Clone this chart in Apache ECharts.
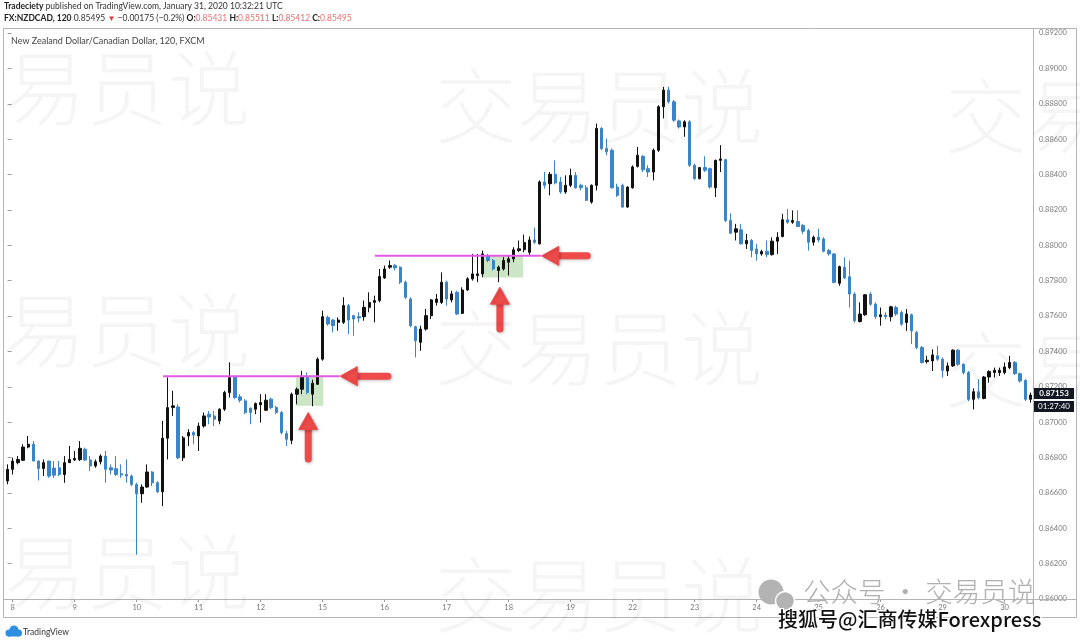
<!DOCTYPE html>
<html>
<head>
<meta charset="utf-8">
<title>NZDCAD 120</title>
<script src="https://cdn.jsdelivr.net/npm/echarts@6/dist/echarts.min.js"></script>
<style>
  html, body { margin: 0; padding: 0; background: #fff; }
  #chart { width: 1080px; height: 642px; }
</style>
</head>
<body>
<div id="chart"></div>
<script>
// 2小时K线: [开, 收, 低, 高]
const ohlc = [
  [0.86667, 0.86733, 0.86648, 0.86761], [0.86733, 0.86780, 0.86704, 0.86799], [0.86771, 0.86789, 0.86761, 0.86808],
  [0.86784, 0.86859, 0.86780, 0.86875], [0.86859, 0.86875, 0.86852, 0.86922], [0.86875, 0.86780, 0.86780, 0.86893],
  [0.86780, 0.86738, 0.86670, 0.86784], [0.86738, 0.86771, 0.86695, 0.86789], [0.86780, 0.86695, 0.86685, 0.86780],
  [0.86740, 0.86700, 0.86685, 0.86780], [0.86742, 0.86704, 0.86695, 0.86780], [0.86704, 0.86771, 0.86657, 0.86808],
  [0.86771, 0.86789, 0.86771, 0.86865], [0.86786, 0.86795, 0.86780, 0.86837], [0.86788, 0.86852, 0.86780, 0.86893],
  [0.86846, 0.86786, 0.86780, 0.86856], [0.86786, 0.86752, 0.86723, 0.86808], [0.86752, 0.86776, 0.86742, 0.86789],
  [0.86776, 0.86808, 0.86761, 0.86818], [0.86808, 0.86733, 0.86657, 0.86837], [0.86742, 0.86729, 0.86704, 0.86761],
  [0.86737, 0.86704, 0.86695, 0.86808], [0.86708, 0.86701, 0.86685, 0.86761], [0.86704, 0.86695, 0.86657, 0.86789],
  [0.86695, 0.86648, 0.86638, 0.86704], [0.86648, 0.86595, 0.86251, 0.86657], [0.86595, 0.86633, 0.86544, 0.86648],
  [0.86633, 0.86718, 0.86629, 0.86761], [0.86718, 0.86657, 0.86638, 0.86723], [0.86657, 0.86606, 0.86600, 0.86667],
  [0.86606, 0.86909, 0.86525, 0.87007], [0.86909, 0.87082, 0.86789, 0.87253], [0.87082, 0.87092, 0.87035, 0.87177],
  [0.87086, 0.86798, 0.86790, 0.87101], [0.86798, 0.86911, 0.86780, 0.86922], [0.86922, 0.86941, 0.86865, 0.86960],
  [0.86941, 0.86927, 0.86875, 0.86950], [0.86922, 0.86978, 0.86837, 0.86997], [0.86978, 0.87035, 0.86969, 0.87054],
  [0.87045, 0.87029, 0.86988, 0.87063], [0.87035, 0.87016, 0.86978, 0.87063], [0.87007, 0.87073, 0.86988, 0.87078],
  [0.87073, 0.87167, 0.87063, 0.87177], [0.87167, 0.87253, 0.87139, 0.87338], [0.87256, 0.87139, 0.87130, 0.87262],
  [0.87143, 0.87124, 0.87111, 0.87158], [0.87120, 0.87054, 0.87045, 0.87130], [0.87079, 0.87054, 0.86988, 0.87082],
  [0.87073, 0.87105, 0.87045, 0.87111], [0.87098, 0.87111, 0.86997, 0.87158], [0.87067, 0.87124, 0.87063, 0.87158],
  [0.87130, 0.87082, 0.87073, 0.87139], [0.87082, 0.87054, 0.87045, 0.87092], [0.87054, 0.86941, 0.86931, 0.87063],
  [0.86935, 0.86903, 0.86865, 0.86950], [0.86897, 0.87158, 0.86875, 0.87167], [0.87158, 0.87186, 0.87101, 0.87196],
  [0.87186, 0.87253, 0.87158, 0.87290], [0.87253, 0.87167, 0.87158, 0.87281], [0.87158, 0.87220, 0.87090, 0.87240],
  [0.87214, 0.87356, 0.87211, 0.87366], [0.87356, 0.87596, 0.87347, 0.87630], [0.87592, 0.87555, 0.87545, 0.87602],
  [0.87577, 0.87545, 0.87507, 0.87583], [0.87564, 0.87577, 0.87517, 0.87592], [0.87564, 0.87659, 0.87555, 0.87706],
  [0.87659, 0.87577, 0.87498, 0.87668], [0.87602, 0.87583, 0.87488, 0.87607], [0.87596, 0.87589, 0.87564, 0.87621],
  [0.87596, 0.87649, 0.87573, 0.87687], [0.87649, 0.87677, 0.87621, 0.87734], [0.87677, 0.87687, 0.87564, 0.87715],
  [0.87687, 0.87823, 0.87677, 0.87866], [0.87815, 0.87866, 0.87810, 0.87885], [0.87876, 0.87885, 0.87866, 0.87914],
  [0.87885, 0.87872, 0.87857, 0.87895], [0.87876, 0.87791, 0.87781, 0.87880], [0.87791, 0.87706, 0.87696, 0.87800],
  [0.87696, 0.87545, 0.87536, 0.87706], [0.87539, 0.87460, 0.87366, 0.87545], [0.87451, 0.87526, 0.87403, 0.87545],
  [0.87526, 0.87602, 0.87517, 0.87640], [0.87602, 0.87691, 0.87583, 0.87696], [0.87677, 0.87696, 0.87659, 0.87725],
  [0.87677, 0.87791, 0.87668, 0.87847], [0.87791, 0.87696, 0.87659, 0.87800], [0.87691, 0.87725, 0.87677, 0.87743],
  [0.87734, 0.87611, 0.87607, 0.87743], [0.87615, 0.87747, 0.87611, 0.87762], [0.87747, 0.87810, 0.87743, 0.87819],
  [0.87810, 0.87838, 0.87800, 0.87951], [0.87829, 0.87838, 0.87791, 0.87951], [0.87838, 0.87951, 0.87819, 0.87970],
  [0.87942, 0.87914, 0.87904, 0.87951], [0.87914, 0.87866, 0.87857, 0.87923], [0.87857, 0.87876, 0.87791, 0.87885],
  [0.87866, 0.87914, 0.87857, 0.87933], [0.87904, 0.87923, 0.87829, 0.87942], [0.87923, 0.87974, 0.87904, 0.87989],
  [0.87970, 0.87980, 0.87961, 0.88027], [0.87975, 0.88015, 0.87960, 0.88060], [0.87960, 0.88030, 0.87945, 0.88050],
  [0.88030, 0.88017, 0.88008, 0.88100], [0.88008, 0.88358, 0.88004, 0.88367], [0.88358, 0.88339, 0.88320, 0.88414],
  [0.88348, 0.88401, 0.88282, 0.88414], [0.88401, 0.88352, 0.88344, 0.88480], [0.88358, 0.88301, 0.88291, 0.88386],
  [0.88301, 0.88339, 0.88291, 0.88395], [0.88339, 0.88395, 0.88329, 0.88433], [0.88395, 0.88325, 0.88320, 0.88414],
  [0.88339, 0.88325, 0.88310, 0.88348], [0.88325, 0.88254, 0.88250, 0.88340], [0.88244, 0.88339, 0.88235, 0.88344],
  [0.88339, 0.88660, 0.88310, 0.88688], [0.88660, 0.88547, 0.88537, 0.88669], [0.88547, 0.88528, 0.88509, 0.88603],
  [0.88537, 0.88325, 0.88320, 0.88547], [0.88329, 0.88282, 0.88273, 0.88348], [0.88339, 0.88216, 0.88212, 0.88348],
  [0.88216, 0.88329, 0.88212, 0.88333], [0.88325, 0.88443, 0.88320, 0.88452], [0.88446, 0.88509, 0.88439, 0.88556],
  [0.88503, 0.88427, 0.88414, 0.88509], [0.88433, 0.88414, 0.88386, 0.88452], [0.88414, 0.88537, 0.88367, 0.88547],
  [0.88537, 0.88783, 0.88528, 0.88792], [0.88783, 0.88877, 0.88717, 0.88896], [0.88877, 0.88811, 0.88802, 0.88896],
  [0.88811, 0.88707, 0.88698, 0.88821], [0.88703, 0.88669, 0.88660, 0.88711], [0.88669, 0.88698, 0.88613, 0.88707],
  [0.88698, 0.88452, 0.88443, 0.88707], [0.88452, 0.88376, 0.88371, 0.88461], [0.88376, 0.88439, 0.88373, 0.88443],
  [0.88439, 0.88424, 0.88414, 0.88503], [0.88433, 0.88329, 0.88320, 0.88439], [0.88325, 0.88480, 0.88273, 0.88484],
  [0.88480, 0.88488, 0.88414, 0.88566], [0.88484, 0.88140, 0.88131, 0.88488], [0.88140, 0.88068, 0.88064, 0.88181],
  [0.88074, 0.88093, 0.88027, 0.88121], [0.88087, 0.88008, 0.88004, 0.88121], [0.88008, 0.88027, 0.87979, 0.88064],
  [0.88027, 0.87970, 0.87932, 0.88036], [0.87979, 0.87951, 0.87913, 0.88008], [0.87951, 0.87964, 0.87941, 0.87974],
  [0.87966, 0.87947, 0.87932, 0.88027], [0.87947, 0.88023, 0.87941, 0.88045], [0.88023, 0.88045, 0.87951, 0.88074],
  [0.88049, 0.88144, 0.88045, 0.88178], [0.88144, 0.88130, 0.88121, 0.88206], [0.88130, 0.88140, 0.88121, 0.88197],
  [0.88134, 0.88106, 0.88102, 0.88197], [0.88112, 0.88079, 0.88064, 0.88121], [0.88083, 0.88017, 0.87970, 0.88093],
  [0.88017, 0.88045, 0.87998, 0.88055], [0.88045, 0.88030, 0.88017, 0.88093], [0.88036, 0.87966, 0.87960, 0.88045],
  [0.87970, 0.87951, 0.87941, 0.87979], [0.87951, 0.87790, 0.87785, 0.87955], [0.87785, 0.87879, 0.87771, 0.87885],
  [0.87875, 0.87815, 0.87809, 0.87932], [0.87822, 0.87724, 0.87648, 0.87913], [0.87724, 0.87573, 0.87563, 0.87734],
  [0.87569, 0.87611, 0.87563, 0.87677], [0.87607, 0.87720, 0.87601, 0.87724], [0.87724, 0.87667, 0.87658, 0.87734],
  [0.87667, 0.87596, 0.87582, 0.87677], [0.87596, 0.87607, 0.87545, 0.87648], [0.87605, 0.87596, 0.87582, 0.87620],
  [0.87596, 0.87652, 0.87569, 0.87658], [0.87648, 0.87611, 0.87601, 0.87658], [0.87620, 0.87554, 0.87545, 0.87630],
  [0.87563, 0.87611, 0.87516, 0.87639], [0.87607, 0.87516, 0.87441, 0.87614], [0.87507, 0.87422, 0.87412, 0.87516],
  [0.87422, 0.87337, 0.87331, 0.87431], [0.87342, 0.87350, 0.87331, 0.87375], [0.87346, 0.87380, 0.87289, 0.87412],
  [0.87375, 0.87356, 0.87346, 0.87431], [0.87356, 0.87293, 0.87252, 0.87365], [0.87289, 0.87318, 0.87261, 0.87337],
  [0.87318, 0.87407, 0.87312, 0.87412], [0.87407, 0.87327, 0.87318, 0.87412], [0.87327, 0.87280, 0.87270, 0.87331],
  [0.87280, 0.87129, 0.87119, 0.87289], [0.87129, 0.87172, 0.87072, 0.87191], [0.87172, 0.87138, 0.87129, 0.87242],
  [0.87134, 0.87255, 0.87129, 0.87261], [0.87255, 0.87286, 0.87223, 0.87293], [0.87280, 0.87293, 0.87252, 0.87308],
  [0.87280, 0.87293, 0.87261, 0.87308], [0.87280, 0.87312, 0.87270, 0.87337], [0.87308, 0.87337, 0.87299, 0.87375],
  [0.87337, 0.87274, 0.87267, 0.87346], [0.87274, 0.87233, 0.87223, 0.87280], [0.87236, 0.87129, 0.87119, 0.87242],
  [0.87129, 0.87153, 0.87110, 0.87167]
];

// 日期刻度: 每天 12 根 2 小时K线, 第一天从第 2 根开始
const dayLabels = ['8', '9', '10', '11', '12', '15', '16', '17', '18', '19', '22', '23', '24', '25', '26', '29', '30'];
const firstDayBar = 1;
const barsPerDay = 12;

// 价格轴
const priceMin = 0.860;
const priceMax = 0.892;
const priceStep = 0.002;

// 阻力线 (K线序号, 价格)
const levels = [
  { from: 30.1, to: 64.3, price: 0.87260 },
  { from: 71.1, to: 103.3, price: 0.87940 }
];
// 绿色回踩区域 [x1, 价格低, x2, 价格高]
const zones = [
  [55.8, 0.87092, 61.1, 0.87262],
  [91.8, 0.87818, 99.8, 0.87942]
];
// 红色箭头 [尾x, 尾价格, 头x, 头价格]
const arrows = [
  [73.6, 0.87260, 64.4, 0.87260],
  [112.2, 0.87940, 103.4, 0.87940],
  [58.2, 0.86792, 58.2, 0.87054],
  [95.3, 0.87527, 95.3, 0.87763]
];

const lastTime = '01:27:40';

const UP = '#111111';
const DOWN = '#3a84c9';
const RED = '#ef4a4a';
const PINK = '#e25be6';

const chart = echarts.init(document.getElementById('chart'), null, { renderer: 'canvas' });

const isDayStart = (i) => i >= firstDayBar && (i - firstDayBar) % barsPerDay === 0;

const levelSeries = levels.map((lv) => ({
  type: 'line',
  xAxisIndex: 1,
  yAxisIndex: 0,
  showSymbol: false,
  silent: true,
  z: 4,
  lineStyle: { color: PINK, width: 2 },
  data: [[lv.from, lv.price], [lv.to, lv.price]]
}));

const watermark = (text, x, y) => ({
  type: 'text',
  x: x,
  y: y,
  z: 90,
  silent: true,
  style: {
    text: text,
    font: '300 82px "Noto Sans CJK SC"',
    fill: 'rgba(0,0,0,0.04)',
    textVerticalAlign: 'middle'
  }
});

const option = {
  animation: false,
  backgroundColor: '#ffffff',
  grid: { left: 5, right: 47, top: 33, bottom: 43, containLabel: false },
  xAxis: [
    {
      type: 'category',
      data: ohlc.map((_, i) => i),
      boundaryGap: true,
      axisLine: { show: false },
      axisTick: {
        show: true,
        interval: (i) => isDayStart(i),
        alignWithLabel: true,
        length: 3,
        lineStyle: { color: '#9a9a9a' }
      },
      axisLabel: {
        interval: (i) => isDayStart(i),
        formatter: (v) => dayLabels[(v - firstDayBar) / barsPerDay] || '',
        color: '#777',
        fontSize: 7.5,
        fontFamily: 'Lato',
        margin: 5
      },
      splitLine: { show: false }
    },
    {
      type: 'value',
      min: -0.5,
      max: ohlc.length - 0.5,
      show: false
    }
  ],
  yAxis: {
    type: 'value',
    position: 'right',
    min: priceMin,
    max: priceMax,
    interval: priceStep,
    scale: true,
    axisLine: { show: false },
    axisTick: { show: true, length: 4, lineStyle: { color: '#9a9a9a' } },
    axisLabel: {
      color: '#7a7a7a',
      fontSize: 7.5,
      fontFamily: 'Lato',
      margin: 6,
      formatter: (v) => v.toFixed(5)
    },
    splitLine: { show: false }
  },
  series: [
    {
      type: 'candlestick',
      name: 'NZDCAD',
      xAxisIndex: 0,
      yAxisIndex: 0,
      barWidth: 2.8,
      z: 3,
      itemStyle: {
        color: UP,
        color0: DOWN,
        borderColor: UP,
        borderColor0: DOWN,
        borderWidth: 1
      },
      data: ohlc
    },
    {
      type: 'line',
      xAxisIndex: 1,
      yAxisIndex: 0,
      data: [],
      silent: true,
      markArea: {
        silent: true,
        itemStyle: { color: 'rgba(100,180,80,0.33)' },
        data: zones.map((z) => [
          { coord: [z[0], z[1]] },
          { coord: [z[2], z[3]] }
        ])
      }
    },
    ...levelSeries,
    {
      type: 'custom',
      xAxisIndex: 1,
      yAxisIndex: 0,
      silent: true,
      z: 10,
      encode: { x: [0, 2], y: [1, 3] },
      data: arrows,
      renderItem: (params, api) => {
        const a = api.coord([api.value(0), api.value(1)]);
        const b = api.coord([api.value(2), api.value(3)]);
        const dx = b[0] - a[0];
        const dy = b[1] - a[1];
        const len = Math.hypot(dx, dy) || 1;
        const ux = dx / len, uy = dy / len;
        const nx = -uy, ny = ux;
        const head = 17, hw = 9.5;
        const bx = b[0] - ux * head, by = b[1] - uy * head;
        const shadow = { shadowBlur: 3, shadowColor: 'rgba(0,0,0,0.25)', shadowOffsetX: 1, shadowOffsetY: 1 };
        return {
          type: 'group',
          children: [
            {
              type: 'line',
              shape: { x1: a[0], y1: a[1], x2: bx + ux * 3, y2: by + uy * 3 },
              style: Object.assign({ stroke: RED, lineWidth: 7, lineCap: 'round' }, shadow)
            },
            {
              type: 'polygon',
              shape: { points: [[b[0], b[1]], [bx + nx * hw, by + ny * hw], [bx - nx * hw, by - ny * hw]] },
              style: Object.assign({ fill: RED, lineJoin: 'round', stroke: RED, lineWidth: 1 }, shadow)
            }
          ]
        };
      }
    }
  ],
  graphic: [
    // 页眉
    {
      type: 'text', x: 4, y: 2, z: 50,
      style: {
        text: '{b|Tradeciety} published on TradingView.com, January 31, 2020 10:32:21 UTC',
        font: '8.5px Lato', fill: '#333',
        rich: { b: { font: 'bold 8.5px Lato', fill: '#222' } }
      }
    },
    {
      type: 'text', x: 4, y: 14, z: 50,
      style: {
        text: '{b|FX:NZDCAD, 120} 0.85495 {t|▼} −0.00175 (−0.2%) {b|O:}{r|0.85431} {b|H:}{r|0.85511} {b|L:}{r|0.85412} {b|C:}{r|0.85495}',
        font: '8.5px Lato', fill: '#333',
        rich: {
          b: { font: 'bold 8.5px Lato', fill: '#222' },
          r: { font: '8.5px Lato', fill: '#e87272' },
          t: { font: '8px Lato', fill: '#e53935' }
        }
      }
    },
    // 图框
    {
      type: 'rect', z: 40, silent: true,
      shape: { x: 3.5, y: 28.5, width: 1073, height: 589 },
      style: { fill: 'none', stroke: '#b4b4b4', lineWidth: 1 }
    },
    {
      type: 'line', z: 40, silent: true,
      shape: { x1: 1033.5, y1: 28.5, x2: 1033.5, y2: 617.5 },
      style: { stroke: '#b4b4b4', lineWidth: 1 }
    },
    {
      type: 'line', z: 40, silent: true,
      shape: { x1: 3.5, y1: 599.5, x2: 1076.5, y2: 599.5 },
      style: { stroke: '#b4b4b4', lineWidth: 1 }
    },
    {
      type: 'text', x: 11, y: 41, z: 50,
      style: { text: 'New Zealand Dollar/Canadian Dollar, 120, FXCM', font: '9px Lato', fill: '#444', textVerticalAlign: 'middle' }
    },
    // 底部 TradingView 标志
    { type: 'circle', z: 50, shape: { cx: 9, cy: 633, r: 3.5 }, style: { fill: '#2e8ee0' } },
    { type: 'circle', z: 50, shape: { cx: 14, cy: 630, r: 4.5 }, style: { fill: '#2e8ee0' } },
    { type: 'circle', z: 50, shape: { cx: 18.5, cy: 633, r: 3.5 }, style: { fill: '#2e8ee0' } },
    { type: 'rect', z: 50, shape: { x: 8, y: 633, width: 11, height: 3.5 }, style: { fill: '#2e8ee0' } },
    {
      type: 'text', x: 23, y: 632, z: 50,
      style: { text: 'TradingView', font: '8.5px Lato', fill: '#333', textVerticalAlign: 'middle' }
    },
    // 水印
    watermark('交易员说', -78, 88),
    watermark('交易员说', 435, 106),
    watermark('交易员说', 945, 116),
    watermark('交易员说', -78, 330),
    watermark('交易员说', 435, 348),
    watermark('交易员说', 945, 370),
    watermark('交易员说', -78, 572),
    watermark('交易员说', 435, 595),
    // 公众号水印
    { type: 'circle', z: 95, shape: { cx: 771, cy: 592, r: 12.5 }, style: { fill: '#b3b3b3' } },
    { type: 'circle', z: 96, shape: { cx: 785, cy: 601, r: 9.5 }, style: { fill: '#b3b3b3', stroke: '#ffffff', lineWidth: 1.5 } },
    {
      type: 'text', x: 803, y: 592, z: 96,
      style: { text: '公众号 · 交易员说', font: '300 27.5px "Noto Sans CJK SC"', fill: '#b0b0b0', textVerticalAlign: 'middle' }
    },
    {
      type: 'text', x: 778, y: 619, z: 97,
      style: {
        text: '搜狐号@汇商传媒Forexpress',
        font: '500 20px "Noto Sans CJK SC"',
        fill: '#111111',
        stroke: '#ffffff',
        lineWidth: 2.5,
        textVerticalAlign: 'middle'
      }
    }
  ]
};

chart.setOption(option);

// 最新价标签
const last = ohlc[ohlc.length - 1][1];
const yLast = chart.convertToPixel({ yAxisIndex: 0 }, last);
chart.setOption({
  graphic: option.graphic.concat([
    { type: 'rect', z: 60, shape: { x: 1034, y: yLast - 7, width: 40, height: 11 }, style: { fill: '#131722' } },
    {
      type: 'text', x: 1054, y: yLast - 1.5, z: 61,
      style: { text: last.toFixed(5), font: 'bold 8px Lato', fill: '#ffffff', textAlign: 'center', textVerticalAlign: 'middle' }
    },
    { type: 'rect', z: 60, shape: { x: 1034, y: yLast + 6, width: 40, height: 11 }, style: { fill: '#131722' } },
    {
      type: 'text', x: 1054, y: yLast + 11.5, z: 61,
      style: { text: lastTime, font: '8px Lato', fill: '#ffffff', textAlign: 'center', textVerticalAlign: 'middle' }
    }
  ])
}, { replaceMerge: ['graphic'] });
</script>
</body>
</html>
